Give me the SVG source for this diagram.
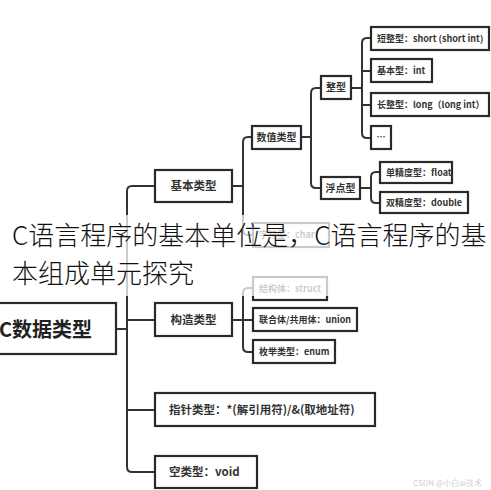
<svg xmlns="http://www.w3.org/2000/svg" width="491" height="490" viewBox="0 0 491 490">
<style>
.box{fill:#fff;stroke:#2a2a2a;stroke-width:2.2}
.ln{fill:none;stroke:#333;stroke-width:2}
text{font-family:"Noto Sans CJK SC","Noto Sans",sans-serif;fill:#333}
.t1{font-size:11.5px;font-weight:bold}
.t2{font-size:10px;font-weight:bold}
.t3{font-size:9px;font-weight:bold}
</style>
<rect width="491" height="490" fill="#fff"/>
<g id="connectors">
<path class="ln" d="M116,329 H127"/>
<path class="ln" d="M155,186 H132 Q127,186 127,191 V467 Q127,472 132,472 H155"/>
<path class="ln" d="M127,320 H155 M127,410 H155"/>
<path class="ln" d="M232,186 H243"/>
<path class="ln" d="M252,137 H248 Q243,137 243,142 V230 Q243,235 248,235 H253"/>
<path class="ln" d="M301,137 H311"/>
<path class="ln" d="M321,88 H316 Q311,88 311,93 V183 Q311,188 316,188 H321"/>
<path class="ln" d="M351,88 H362"/>
<path class="ln" d="M371,38 H367 Q362,38 362,43 V133 Q362,138 367,138 H371 M362,71 H371 M362,105 H371"/>
<path class="ln" d="M360,188 H371"/>
<path class="ln" d="M380,172 H376 Q371,172 371,177 V198 Q371,203 376,203 H380"/>
<path class="ln" d="M232,320 H243"/>
<path class="ln" d="M253,288 H248 Q243,288 243,293 V347 Q243,352 248,352 H253 M243,320 H253"/>
</g>
<g id="n-root"><rect class="box" x="-5" y="303" width="121" height="51"/><text x="-1" y="337" style="font-size:20px;font-weight:bold;fill:#222">C数据类型</text></g>
<g id="n-basic"><rect class="box" x="155" y="170" width="77" height="32"/><text class="t1" x="193.5" y="190" text-anchor="middle">基本类型</text></g>
<g id="n-struct-type"><rect class="box" x="155" y="303" width="77" height="33"/><text class="t1" x="193.5" y="323.5" text-anchor="middle">构造类型</text></g>
<g id="n-pointer"><rect class="box" x="155" y="393" width="220" height="33"/><text class="t1" x="169" y="413.5">指针类型：*(解引用符)/&amp;(取地址符)</text></g>
<g id="n-void"><rect class="box" x="155" y="456" width="102" height="32"/><text class="t1" x="169" y="476">空类型：void</text></g>
<g id="n-num"><rect class="box" x="252" y="126" width="49" height="23"/><text class="t2" x="276.5" y="141" text-anchor="middle">数值类型</text></g>
<g id="n-char"><rect class="box" x="253" y="223" width="76" height="24"/><text class="t3" x="259" y="238">字符型：char</text></g>
<g id="n-int"><rect class="box" x="321" y="76" width="30" height="23"/><text class="t2" x="336" y="91" text-anchor="middle">整型</text></g>
<g id="n-float"><rect class="box" x="321" y="177" width="39" height="22"/><text class="t2" x="340.5" y="191.5" text-anchor="middle">浮点型</text></g>
<g id="n-short"><rect class="box" x="371" y="27" width="118" height="23"/><text class="t3" x="377" y="41.5">短整型：short (short int)</text></g>
<g id="n-intb"><rect class="box" x="371" y="59" width="61" height="23"/><text class="t3" x="377" y="73.5">基本型：int</text></g>
<g id="n-long"><rect class="box" x="371" y="93" width="118" height="23"/><text class="t3" x="377" y="107.5">长整型：long（long int）</text></g>
<g id="n-etc"><rect class="box" x="371" y="126" width="20" height="23"/><text class="t3" x="381" y="140" text-anchor="middle">…</text></g>
<g id="n-single"><rect class="box" x="380" y="162" width="72" height="21"/><text class="t3" x="386" y="175.5">单精度型：float</text></g>
<g id="n-double"><rect class="box" x="380" y="192" width="88" height="21"/><text class="t3" x="386" y="205.5">双精度型：double</text></g>
<g id="n-struct"><rect class="box" x="253" y="277" width="74" height="23"/><text class="t3" x="259" y="291.5">结构体：struct</text></g>
<g id="n-union"><rect class="box" x="253" y="308" width="104" height="23"/><text class="t3" x="259" y="322.5">联合体/共用体：union</text></g>
<g id="n-enum"><rect class="box" x="253" y="340" width="82" height="23"/><text class="t3" x="259" y="354.5">枚举类型：enum</text></g>
<rect x="0" y="215" width="491" height="81" fill="#fff" opacity="0.75"/>
<g id="overlay-title" style="font-size:26px;font-weight:300">
<text x="12" y="245" style="fill:#111">C语言程序的基本单位是，C语言程序的基</text>
<text x="12" y="283" style="fill:#111">本组成单元探究</text>
</g>
<text x="413" y="486" style="font-size:8px;fill:#d0d0d0">CSDN @小白ai技术</text>
</svg>
